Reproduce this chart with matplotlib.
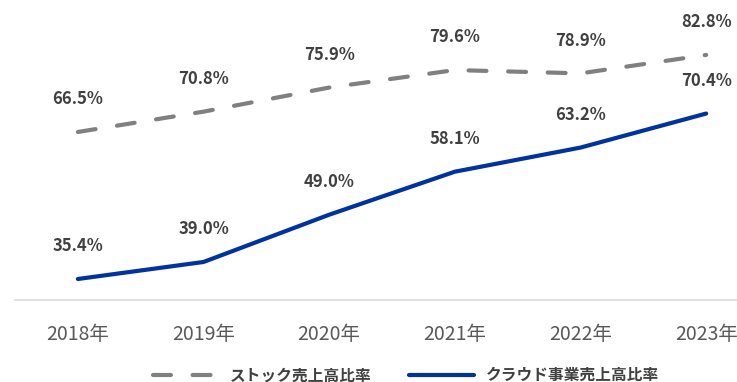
import matplotlib.pyplot as plt

plt.rcParams['font.family'] = ['Noto Sans CJK JP', 'DejaVu Sans']

years = ['2018年', '2019年', '2020年', '2021年', '2022年', '2023年']
stock_ratio = [66.5, 70.8, 75.9, 79.6, 78.9, 82.8]
cloud_ratio = [35.4, 39.0, 49.0, 58.1, 63.2, 70.4]

GRAY = '#808080'
BLUE = '#0033a0'
LABEL = '#404040'

fig = plt.figure(figsize=(7.37, 3.82), dpi=100)
ax = fig.add_axes([0.0204, 0.2147, 1.023, 0.7853])

x = range(len(years))
ax.plot(x, stock_ratio, color=GRAY, lw=3, dashes=(4.3, 5.2),
        dash_capstyle='round', label='ストック売上高比率')
ax.plot(x, cloud_ratio, color=BLUE, lw=3, solid_capstyle='round',
        label='クラウド事業売上高比率')

for series in (stock_ratio, cloud_ratio):
    for i, v in enumerate(series):
        ax.annotate(f'{v:.1f}%', (i, v), xytext=(0, 23.5),
                    textcoords='offset points', ha='center', va='center',
                    fontsize=12, fontweight='bold', color=LABEL)

ax.set_xlim(-0.5, 5.5)
ax.set_ylim(30.96, 94.42)
ax.set_xticks(list(x))
ax.set_xticklabels(years, fontsize=14, color='#595959')
ax.tick_params(axis='x', length=0, pad=17)
ax.set_yticks([])
for side in ('left', 'right', 'top'):
    ax.spines[side].set_visible(False)
ax.spines['bottom'].set_color('#d9d9d9')
ax.spines['bottom'].set_linewidth(1.2)

leg = fig.legend(loc='center', bbox_to_anchor=(0.551, 0.018), ncol=2,
                 frameon=False, handlelength=4.1, handletextpad=0.8,
                 columnspacing=2.4,
                 prop={'size': 11.3, 'weight': 'bold'})
for t in leg.get_texts():
    t.set_color(LABEL)

fig.savefig('out.png', dpi=100)
